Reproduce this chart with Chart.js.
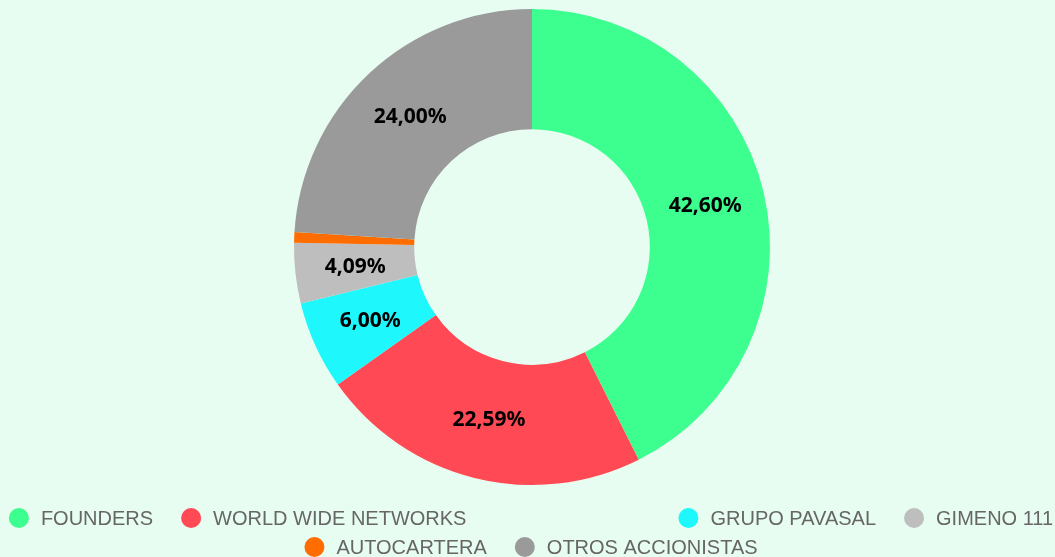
<!DOCTYPE html>
<html><head><meta charset="utf-8">
<script src="https://cdn.jsdelivr.net/npm/chart.js@4/dist/chart.umd.min.js"></script>
<style>html,body{margin:0;padding:0;background:#e8fdf1;overflow:hidden}canvas{display:block}</style>
</head><body>
<canvas id="c" width="1055" height="557"></canvas>
<script>
const categories = ['FOUNDERS', 'WORLD WIDE NETWORKS', 'GRUPO PAVASAL', 'GIMENO 111', 'AUTOCARTERA', 'OTROS ACCIONISTAS'];
const shares = [42.60, 22.59, 6.00, 4.09, 0.72, 24.00];
const sliceColors = ['#3cff8f', '#ff4a55', '#1ef8fc', '#bebebe', '#ff6c00', '#9a9a9a'];
const legendRows = [[0, 1, null, 2, 3], [4, 5]];

const sliceLabels = {
  id: 'sliceLabels',
  afterDatasetsDraw(chart) {
    const ctx = chart.ctx;
    const meta = chart.getDatasetMeta(0);
    ctx.save();
    ctx.font = 'bold 21px "Noto Sans"';
    ctx.fillStyle = '#000';
    ctx.textAlign = 'center';
    ctx.textBaseline = 'middle';
    meta.data.forEach((arc, i) => {
      const v = shares[i];
      if (v < 1) return;
      const p = arc.tooltipPosition();
      ctx.fillText(v.toFixed(2).replace('.', ',') + '%', p.x, p.y);
    });
    ctx.restore();
  }
};

const bottomLegend = {
  id: 'bottomLegend',
  afterDraw(chart, args, opts) {
    const ctx = chart.ctx;
    ctx.save();
    ctx.font = opts.font;
    ctx.textBaseline = 'middle';
    ctx.textAlign = 'left';
    opts.rows.forEach((row, r) => {
      const seq = [];
      let pending = 0;
      row.forEach(idx => {
        if (idx === null) { pending = opts.spacer; return; }
        const w = 2 * opts.radius + opts.textGap + ctx.measureText(categories[idx]).width;
        seq.push({ idx, w, gap: seq.length ? (pending || opts.itemGap) : 0 });
        pending = 0;
      });
      const total = seq.reduce((s, it) => s + it.gap + it.w, 0);
      let x = opts.centerX - total / 2;
      const y = opts.rowY[r];
      seq.forEach(it => {
        x += it.gap;
        ctx.beginPath();
        ctx.arc(x + opts.radius, y, opts.radius, 0, Math.PI * 2);
        ctx.fillStyle = sliceColors[it.idx];
        ctx.fill();
        ctx.fillStyle = opts.color;
        ctx.fillText(categories[it.idx], x + 2 * opts.radius + opts.textGap, y + 1);
        x += it.w;
      });
    });
    ctx.restore();
  }
};

new Chart(document.getElementById('c'), {
  type: 'doughnut',
  data: {
    labels: categories,
    datasets: [{
      data: shares,
      backgroundColor: sliceColors,
      borderWidth: 0
    }]
  },
  options: {
    responsive: false,
    animation: false,
    cutout: '49.5%',
    layout: { padding: { left: 9, top: 9, right: 0, bottom: 72 } },
    plugins: {
      legend: { display: false },
      tooltip: { enabled: false },
      bottomLegend: {
        font: '20px "Liberation Sans"',
        color: '#666',
        radius: 10,
        textGap: 12,
        itemGap: 28,
        spacer: 212,
        centerX: 531,
        rows: legendRows,
        rowY: [518, 547]
      }
    }
  },
  plugins: [sliceLabels, bottomLegend]
});
</script>
</body></html>
